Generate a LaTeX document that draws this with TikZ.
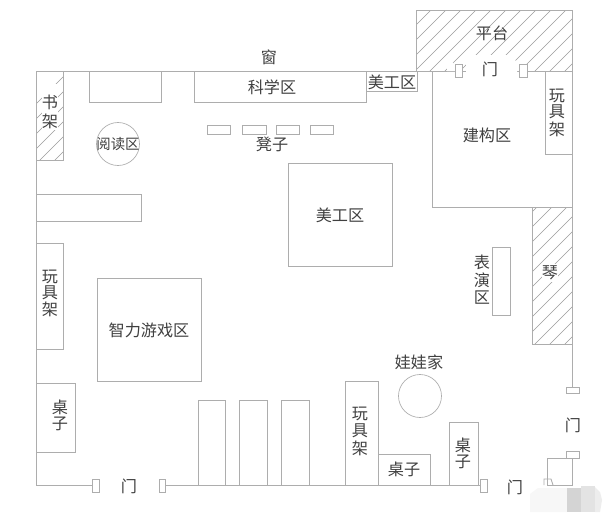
\documentclass[tikz,border=0pt]{standalone}
\usepackage{fontspec}
\setmainfont{Noto Sans CJK SC}
\definecolor{wall}{HTML}{ADADAD}
\definecolor{ink}{HTML}{404040}
\newcommand{\hatchbox}[4]{%
  \begin{scope}
    \clip (#1,#2) rectangle (#3,#4);
    \foreach \k in {-40,-25,...,800} {
      \draw[hatchline] (\k,#4+20) -- ++(700,-700);
    }
  \end{scope}
  \draw[wallline] (#1,#2) rectangle (#3,#4);
}
\tikzset{
  x=0.75pt, y=-0.75pt,
  wallline/.style={draw=wall, line width=0.7pt},
  thinline/.style={draw=wall, line width=0.5pt},
  hatchline/.style={draw=wall!90!black, line width=0.45pt},
  lab/.style={text=ink, font=\fontsize{12.1pt}{12.4pt}\selectfont, align=center, inner sep=0pt},
  smalllab/.style={text=ink, font=\fontsize{10.8pt}{12pt}\selectfont, align=center, inner sep=0pt},
  doorbox/.style={draw=wall, line width=0.65pt, fill=white},
  blob/.style={fill=#1, draw=none}
}
\begin{document}
\begin{tikzpicture}
\useasboundingbox (0,0) rectangle (608,512);
\fill[white] (0,0) rectangle (608,512);

% hatched regions
\hatchbox{416}{10.5}{572}{71}
\hatchbox{36}{71}{63.5}{160}
\hatchbox{532}{207}{572}{344}
% clear hatching around the upper door
\fill[white] (466,73) -- (466,63) -- (474,55) -- (510,55) -- (517,62) -- (517,73) -- cycle;
\fill[white] (447,71) -- (447,66) -- (453,62) -- (455,71) -- cycle;
\fill[white] (527,71) -- (527,64) -- (531,64) -- (533,71) -- cycle;
% clear hatching behind the shelf label
\fill[white] (42,84) rectangle (58,130);
\fill[white] (542,264) rectangle (558,282);

% outer walls
\draw[wallline] (99,485) -- (36,485) -- (36,71) -- (416,71);
\draw[wallline] (165,485) -- (480,485);
\draw[wallline] (572,344) -- (572,387);
\draw[wallline] (566,458) -- (547,458) -- (547,485) -- (572,485) -- (572,458);
\draw[wallline] (544,485) -- (544,479) -- (551,479) -- (553,485);
\draw[wallline] (416,71) -- (447,71);
\draw[wallline] (527,71) -- (572,71);

% furniture along the top
\draw[wallline] (89,71) rectangle (161,102);
\draw[wallline] (194,71) rectangle (366,102);
\draw[wallline] (366,71) rectangle (417,91.5);
\draw[thinline] (207,125) rectangle (230,134);
\draw[thinline] (242,125) rectangle (266,134);
\draw[thinline] (276,125) rectangle (299,134);
\draw[thinline] (310,125) rectangle (333,134);
\draw[thinline] (118,144) circle[radius=21.5];

% left side
\draw[wallline] (36,194) rectangle (141,221);
\draw[wallline] (36,243.5) rectangle (63.5,349);
\draw[wallline] (97,278) rectangle (201,381);
\draw[wallline] (36,383) rectangle (75,452);

% bottom row
\draw[wallline] (198,400) rectangle (225,485);
\draw[wallline] (239,400) rectangle (267,485);
\draw[wallline] (281,400) rectangle (309,485);
\draw[wallline] (345,381) rectangle (378,485);
\draw[wallline] (378,454) rectangle (430,485);
\draw[wallline] (449,422) rectangle (478,485);
\draw[thinline] (420,396) circle[radius=21.5];

% centre and right
\draw[wallline] (288,163) rectangle (392,266);
\draw[wallline] (432,71) -- (432,207) -- (572,207) -- (572,71);
\draw[wallline] (545,71) -- (545,154) -- (572,154);
\draw[wallline] (492,247) rectangle (510,315);

% doors
\draw[doorbox] (92,479) rectangle (99,492);
\draw[doorbox] (159,479) rectangle (165,492);
\draw[doorbox] (480,479) rectangle (487,492);
\draw[doorbox] (455,64) rectangle (462,77);
\draw[doorbox] (519,64) rectangle (527,77);
\draw[doorbox] (566,387) rectangle (579,393);
\draw[doorbox] (566,451) rectangle (579,458);

% blurred patch, bottom right corner
\fill[blob=black!3] (530,512) -- (530,494) -- (538,488) -- (567,488) -- (567,512) -- cycle;
\fill[blob=black!17] (567,488) rectangle (581,512);
\fill[blob=black!11] (581,486) rectangle (595,512);
\fill[blob=black!7] (595,487) -- (600,492) -- (602,500) -- (600,512) -- (595,512) -- cycle;

% labels
\node[lab] (lchuang) at (269,57) {窗};
\node[lab] (lkexue) at (272,87) {科学区};
\node[lab] (lmeigong1) at (392,82) {美工区};
\node[lab] (lpingtai) at (492,33) {平台};
\node[lab] (lmen1) at (490,69) {门};
\node[lab] (lshujia) at (50,102) {书};
\node[lab] (lshujib) at (50,121) {架};
\node[smalllab] (lyuedu) at (118,144) {阅读区};
\node[lab] (ldengzi) at (272,144) {凳子};
\node[lab] (lwan1) at (557,96) {玩};
\node[lab] (lju1) at (557,112) {具};
\node[lab] (ljia1) at (557,129) {架};
\node[lab] (ljiangou) at (487,135) {建构区};
\node[lab] (lmeigong2) at (340,215) {美工区};
\node[lab] (lwan2) at (50,277) {玩};
\node[lab] (lju2) at (50,293) {具};
\node[lab] (ljia2) at (50,309) {架};
\node[lab] (lzhili) at (149,330) {智力游戏区};
\node[lab] (lzhuo1a) at (60,407) {桌};
\node[lab] (lzhuo1b) at (60,424) {子};
\node[lab] (lmen2) at (129,486) {门};
\node[lab] (lbiao) at (482,262) {表};
\node[lab] (lyan) at (482,280) {演};
\node[lab] (lqu) at (482,298) {区};
\node[lab] (lqin) at (550,273) {琴};
\node[lab] (lwawa) at (419,362) {娃娃家};
\node[lab] (lwan3) at (360,414) {玩};
\node[lab] (lju3) at (360,431) {具};
\node[lab] (ljia3) at (360,448) {架};
\node[lab] (lzhuo2) at (404,469) {桌子};
\node[lab] (lzhuo3a) at (463,445) {桌};
\node[lab] (lzhuo3b) at (463,462) {子};
\node[lab] (lmen3) at (515,487) {门};
\node[lab] (lmen4) at (573,425) {门};
\end{tikzpicture}
\end{document}
